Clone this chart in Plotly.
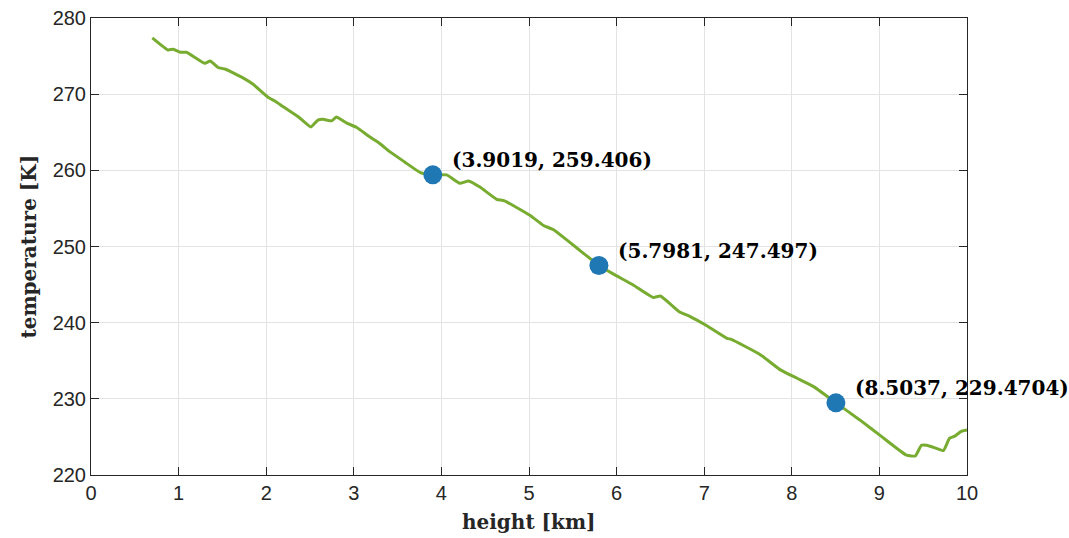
import plotly.graph_objects as go

height_km = [0.70, 0.88, 0.94, 1.02, 1.09, 1.30, 1.36, 1.45, 1.53, 1.74, 1.85, 2.02, 2.10,
             2.20, 2.37, 2.51, 2.59, 2.65, 2.75, 2.80, 2.92, 3.03, 3.18, 3.30, 3.41, 3.58,
             3.76, 3.90, 4.06, 4.21, 4.31, 4.44, 4.63, 4.72, 5.01, 5.16, 5.28, 5.58, 5.80,
             5.96, 6.19, 6.42, 6.50, 6.72, 6.84, 7.03, 7.26, 7.31, 7.64, 7.87, 8.06, 8.25,
             8.50, 8.78, 9.03, 9.31, 9.41, 9.48, 9.54, 9.65, 9.73, 9.80, 9.86, 9.93, 10.0]
temperature_K = [277.4, 275.8, 275.9, 275.5, 275.5, 274.05, 274.35, 273.5, 273.3, 272.1, 271.3,
                 269.6, 269.1, 268.3, 267.0, 265.7, 266.6, 266.7, 266.5, 267.0, 266.2, 265.65,
                 264.4, 263.5, 262.45, 261.1, 259.7, 259.41, 259.4, 258.3, 258.6, 257.8, 256.2,
                 256.0, 254.1, 252.8, 252.2, 249.5, 247.5, 246.4, 244.95, 243.3, 243.5, 241.4,
                 240.8, 239.6, 237.95, 237.8, 235.8, 233.8, 232.7, 231.6, 229.5, 227.2, 225.0,
                 222.6, 222.5, 223.9, 223.9, 223.5, 223.2, 224.8, 225.1, 225.7, 225.9]

marker_x = [3.9019, 5.7981, 8.5037]
marker_y = [259.406, 247.497, 229.4704]
marker_labels = ["(3.9019, 259.406)", "(5.7981, 247.497)", "(8.5037, 229.4704)"]

x_ticks = list(range(0, 11))
y_ticks = list(range(220, 281, 10))
x_title = "height [km]"
y_title = "temperature [K]"

fig = go.Figure()
fig.add_trace(go.Scatter(x=height_km, y=temperature_K, mode="lines",
                         line=dict(color="#77AC30", width=3, shape="spline", smoothing=0.4),
                         showlegend=False))
fig.add_trace(go.Scatter(x=marker_x, y=marker_y, mode="markers",
                         marker=dict(color="#1f77b4", size=19), showlegend=False))

for xv, yv, lab in zip(marker_x, marker_y, marker_labels):
    fig.add_annotation(x=xv, y=yv, text="<b>" + lab + "</b>", showarrow=False,
                       xanchor="left", yanchor="middle", xshift=17, yshift=15,
                       font=dict(family="DejaVu Serif", size=20, color="black"))

title_font = dict(family="DejaVu Serif", size=20, color="#262626")
fig.add_annotation(xref="paper", yref="paper", x=0.5, y=0, text="<b>" + x_title + "</b>",
                   showarrow=False, xanchor="center", yanchor="middle", yshift=-47,
                   font=title_font)
fig.add_annotation(xref="paper", yref="paper", x=0, y=0.5, text="<b>" + y_title + "</b>",
                   showarrow=False, xanchor="center", yanchor="middle", xshift=-63,
                   textangle=-90, font=title_font)

axis_common = dict(showline=True, linecolor="#262626", linewidth=1, mirror="ticks",
                   ticks="inside", ticklen=8, tickcolor="#262626", showgrid=True,
                   gridcolor="#e3e3e3", gridwidth=1, zeroline=False, automargin=False,
                   tickfont=dict(family="Liberation Sans", size=20, color="#262626"))

fig.update_xaxes(range=[0, 10], tickvals=x_ticks, **axis_common)
fig.update_yaxes(range=[220, 280], tickvals=y_ticks, **axis_common)

fig.update_layout(width=1069, height=538, margin=dict(l=91, r=102, t=18, b=63),
                  plot_bgcolor="white", paper_bgcolor="white")

fig.write_html("out.html")
